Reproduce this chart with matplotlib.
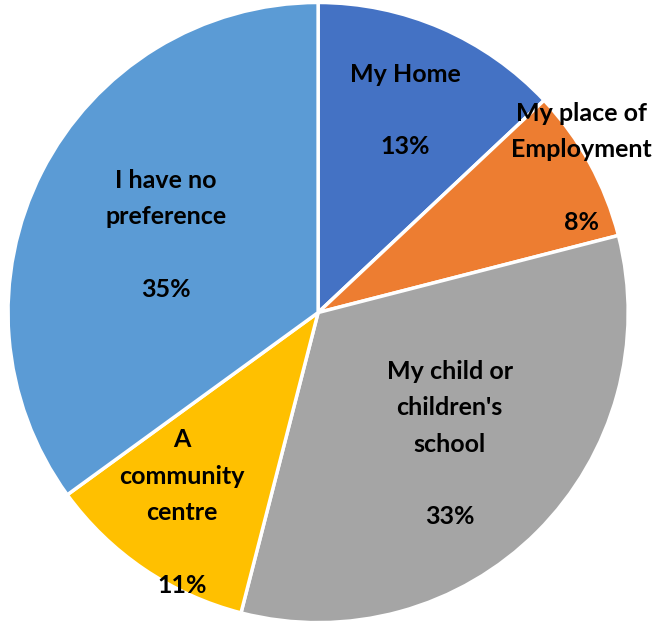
import numpy as np
import matplotlib.pyplot as plt

labels = ['My Home', 'My place of\nEmployment', "My child or\nchildren's\nschool",
          'A\ncommunity\ncentre', 'I have no\npreference']
sizes = [13, 8, 33, 11, 35]
colors = ['#4472C4', '#ED7D31', '#A5A5A5', '#FFC000', '#5B9BD5']
# radial placement of each label, as a fraction of the radius
label_r = [0.71, 0.97, 0.6, 0.78, 0.55]

fig = plt.figure(figsize=(6.69, 6.22), dpi=100)
ax = fig.add_axes([0.012, -0.001, 0.927, 0.997])
wedges, _ = ax.pie(sizes, colors=colors, startangle=90, counterclock=False,
                   wedgeprops=dict(edgecolor='white', linewidth=2.5))
ax.set_xlim(-1, 1)
ax.set_ylim(-1, 1)
ax.set_aspect('equal')

for w, lab, s, r in zip(wedges, labels, sizes, label_r):
    ang = np.deg2rad((w.theta1 + w.theta2) / 2)
    x, y = r * np.cos(ang), r * np.sin(ang)
    ax.text(x, y, lab + '\n\n' + str(s) + '%', ha='center', va='center',
            fontsize=18, fontweight='bold', family='Lato', linespacing=1.7)

fig.savefig('out.png')
